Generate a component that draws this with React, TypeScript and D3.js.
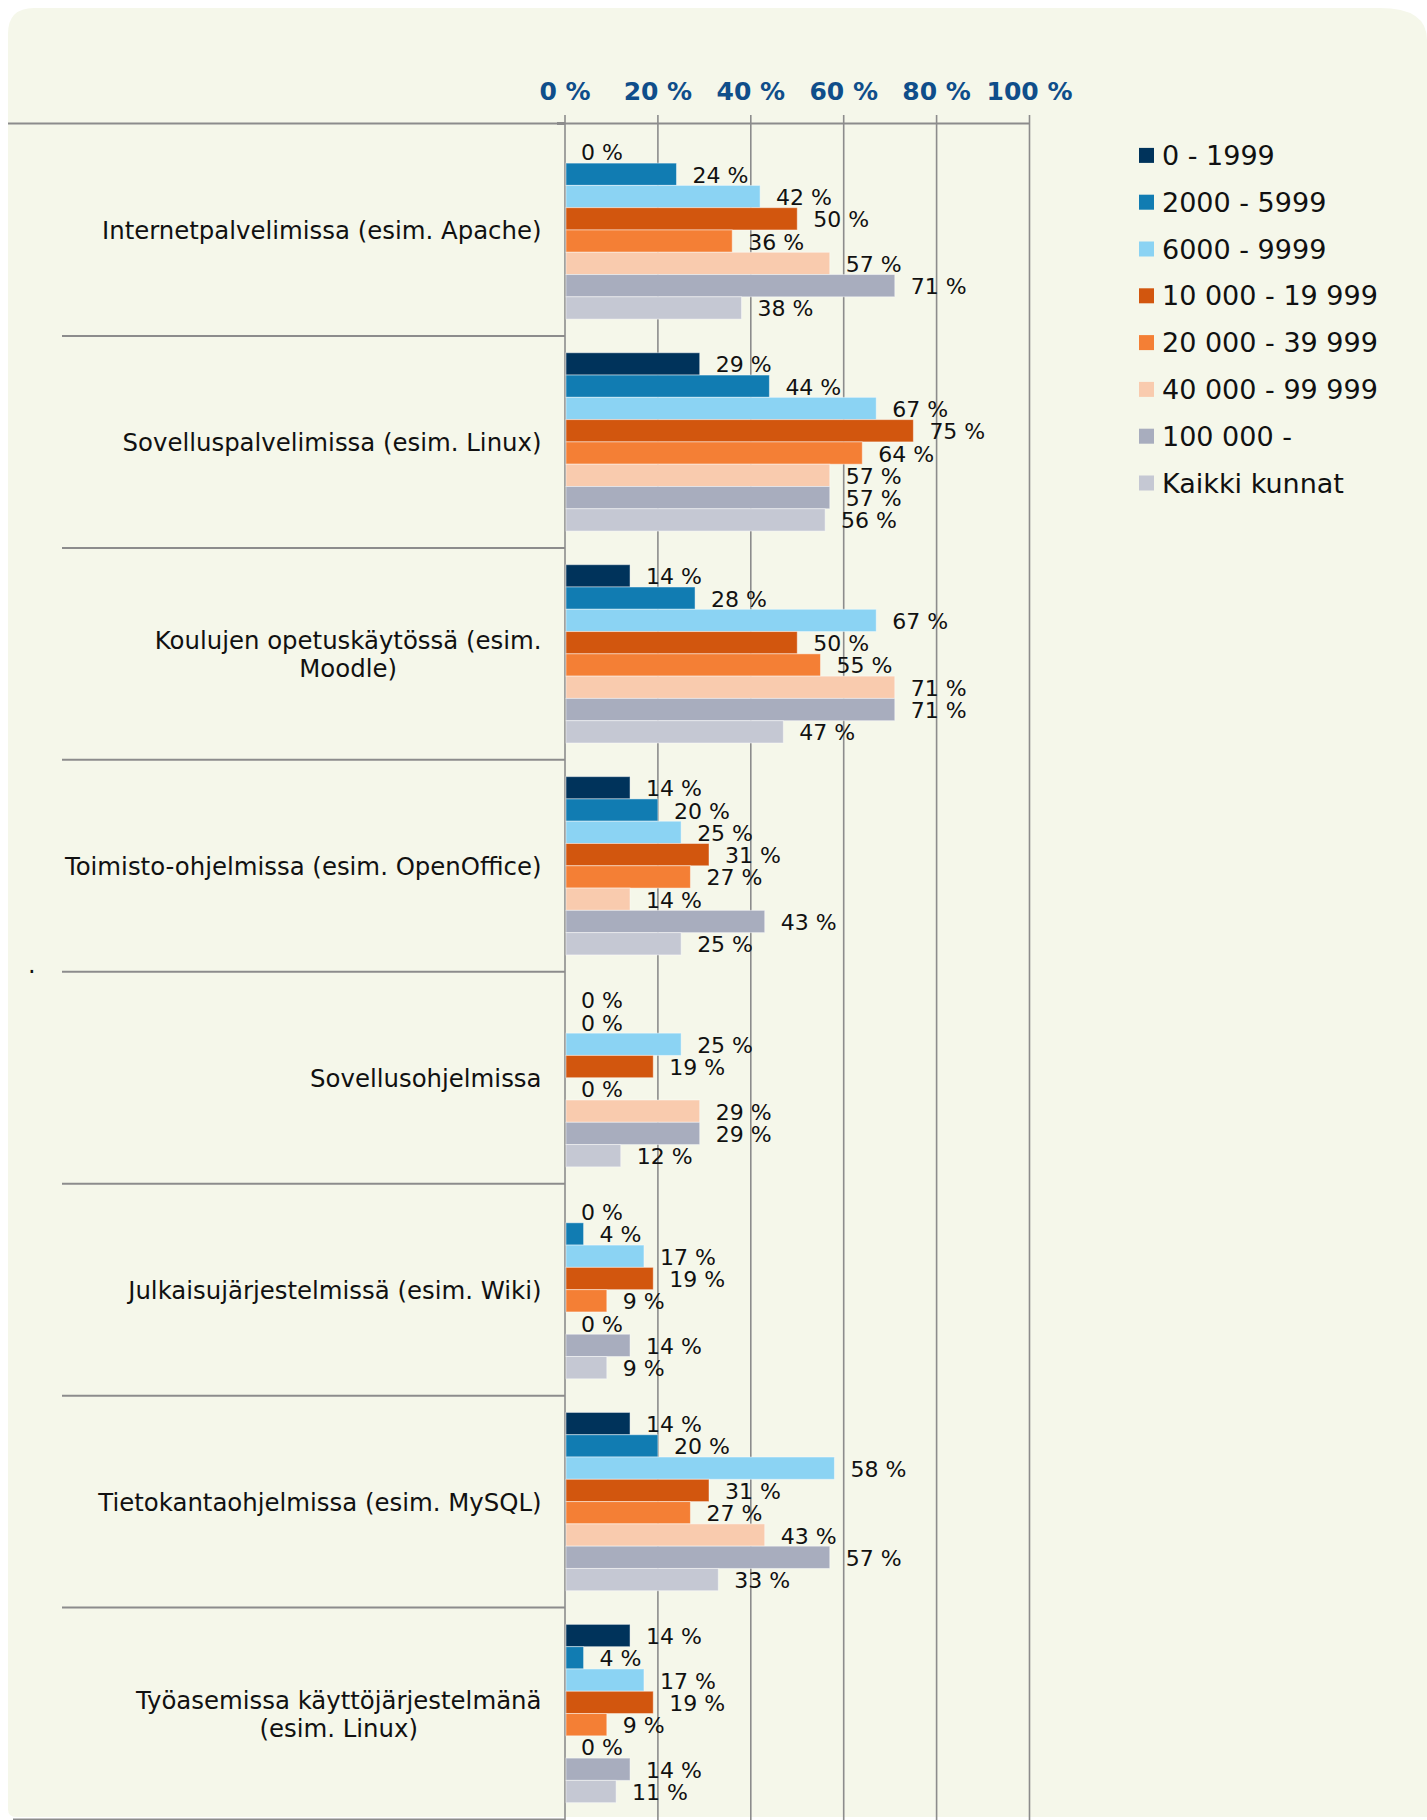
import { scaleBand, scaleLinear } from "d3"

const categories = [
  "Internetpalvelimissa (esim. Apache)",
  "Sovelluspalvelimissa (esim. Linux)",
  "Koulujen opetuskäytössä (esim.\nMoodle)",
  "Toimisto-ohjelmissa (esim. OpenOffice)",
  "Sovellusohjelmissa",
  "Julkaisujärjestelmissä (esim. Wiki)",
  "Tietokantaohjelmissa (esim. MySQL)",
  "Työasemissa käyttöjärjestelmänä\n(esim. Linux)",
]

const series = [
  "0 - 1999",
  "2000 - 5999",
  "6000 - 9999",
  "10 000 - 19 999",
  "20 000 - 39 999",
  "40 000 - 99 999",
  "100 000 -",
  "Kaikki kunnat",
]

// one array per size class, values in category order
const v0_1999 = [0, 29, 14, 14, 0, 0, 14, 14]
const v2000_5999 = [24, 44, 28, 20, 0, 4, 20, 4]
const v6000_9999 = [42, 67, 67, 25, 25, 17, 58, 17]
const v10000_19999 = [50, 75, 50, 31, 19, 19, 31, 19]
const v20000_39999 = [36, 64, 55, 27, 0, 9, 27, 9]
const v40000_99999 = [57, 57, 71, 14, 29, 0, 43, 0]
const v100000 = [71, 57, 71, 43, 29, 14, 57, 14]
const vAll = [38, 56, 47, 25, 12, 9, 33, 11]

const values = [v0_1999, v2000_5999, v6000_9999, v10000_19999, v20000_39999, v40000_99999, v100000, vAll]

const ticks = [0, 20, 40, 60, 80, 100]

const colors = ["#00335B", "#117CB2", "#8BD3F3", "#D2560E", "#F47F35", "#F9CBAE", "#A8ADBE", "#C5C8D3"]

const FONT = "'DejaVu Sans', Verdana, sans-serif"
const GRID = "#8C8C8C"
const CAT_SIZE = 24.4

let ctx: CanvasRenderingContext2D | null = null
function measure(text: string, size: number) {
  if (!ctx) ctx = document.createElement("canvas").getContext("2d")
  if (!ctx) return text.length * size * 0.55
  ctx.font = `${size}px 'DejaVu Sans'`
  return ctx.measureText(text).width
}

export default function App() {
  const W = 1427
  const H = 1820
  const plotTop = 124
  const plotBottom = 1819.5

  const x = scaleLinear().domain([0, 100]).range([565, 1029.5])
  const y0 = scaleBand().domain(categories).range([plotTop, plotBottom]).padding(0)
  const y1 = scaleBand().domain(series).range([0, y0.bandwidth()]).paddingInner(0).paddingOuter(0.755)
  const legendY = scaleBand().domain(series).range([132, 132 + 46.8 * series.length])

  const labelRight = 541.5
  const lineH = 28.4

  const card = `M 34 8 H 1448 V 1817 H 16 Q 8 1817 8 1809 V 34 Q 8 8 34 8 Z`

  return (
    <svg
      width={W}
      height={H}
      viewBox={`0 0 ${W} ${H}`}
      style={{ position: "absolute", left: 0, top: 0, display: "block" }}
    >
      <rect x={0} y={0} width={W} height={H} fill="#fff" />
      <path d={card} fill="#F5F7EA" />
      <path d="M 1380 8 Q 1427 8 1427 40 V 8 Z" fill="#fff" />

      {/* vertical gridlines */}
      {ticks.map((t) => (
        <line key={t} x1={x(t)} x2={x(t)} y1={115} y2={H} stroke={GRID} strokeWidth={1.6} />
      ))}
      {/* top axis line */}
      <line x1={8} x2={x(100)} y1={123.5} y2={123.5} stroke={GRID} strokeWidth={2} />
      <line x1={557} x2={565} y1={123.5} y2={123.5} stroke={GRID} strokeWidth={3} />

      {/* category separators */}
      {categories.map((c, i) => {
        const yb = (y0(c) ?? 0) + y0.bandwidth()
        return (
          <line
            key={c}
            x1={i === categories.length - 1 ? 13 : 62}
            x2={x(0)}
            y1={yb}
            y2={yb}
            stroke={GRID}
            strokeWidth={2}
          />
        )
      })}

      {/* tick labels */}
      {ticks.map((t) => (
        <text
          key={t}
          x={x(t)}
          y={99.5}
          textAnchor="middle"
          fontFamily={FONT}
          fontWeight="bold"
          fontSize={25}
          fill="#0F4E8A"
        >
          {`${t} %`}
        </text>
      ))}

      {/* bars */}
      {categories.map((c, ci) => (
        <g key={c} transform={`translate(0,${y0(c)})`}>
          {series.map((s, si) => {
            const v = values[si][ci]
            const yy = y1(s) ?? 0
            if (v <= 0) return null
            return (
              <rect
                key={s}
                x={x(0) + 1}
                y={yy}
                width={x(v) - x(0) - 1}
                height={y1.bandwidth()}
                fill={colors[si]}
                stroke="rgba(255,255,255,0.45)"
                strokeWidth={1}
              />
            )
          })}
          {series.map((s, si) => {
            const v = values[si][ci]
            const yy = (y1(s) ?? 0) + y1.bandwidth() / 2 + 8.5
            return (
              <text key={s} x={x(v) + 16} y={yy} fontFamily={FONT} fontSize={22} fill="#111">
                {`${v} %`}
              </text>
            )
          })}
        </g>
      ))}

      {/* category labels */}
      {categories.map((c) => {
        const lines = c.split("\n")
        const maxW = Math.max(...lines.map((l) => measure(l, CAT_SIZE)))
        const cx = labelRight - maxW / 2
        const cy = (y0(c) ?? 0) + y0.bandwidth() / 2
        return (
          <text key={c} fontFamily={FONT} fontSize={CAT_SIZE} fill="#111" textAnchor="middle">
            {lines.map((l, i) => (
              <tspan key={i} x={cx} y={cy + 9.3 - ((lines.length - 1) * lineH) / 2 + i * lineH}>
                {l}
              </tspan>
            ))}
          </text>
        )
      })}

      <text x={28} y={973} fontFamily={FONT} fontSize={24} fill="#111">
        .
      </text>

      {/* legend */}
      {series.map((s, i) => {
        const cy = (legendY(s) ?? 0) + legendY.bandwidth() / 2
        return (
          <g key={s}>
            <rect x={1139} y={cy - 7.5} width={15} height={15} fill={colors[i]} />
            <text x={1162} y={cy + 9.5} fontFamily={FONT} fontSize={27} fill="#111">
              {s}
            </text>
          </g>
        )
      })}
    </svg>
  )
}
